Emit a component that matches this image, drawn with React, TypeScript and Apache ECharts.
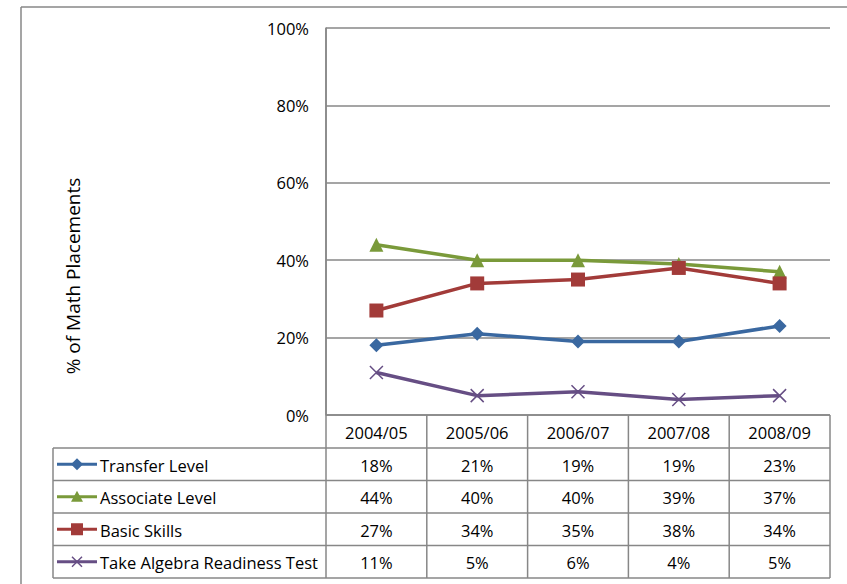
import React, { useEffect, useRef } from "react";
import * as echarts from "echarts";

// School years shown along the x axis and in the table header
const years = ["2004/05", "2005/06", "2006/07", "2007/08", "2008/09"];

// Share of math placements by level (%)
const transferLevel = [18, 21, 19, 19, 23];
const associateLevel = [44, 40, 40, 39, 37];
const basicSkills = [27, 34, 35, 38, 34];
const algebraReadiness = [11, 5, 6, 4, 5];

const seriesNames = [
  "Transfer Level",
  "Associate Level",
  "Basic Skills",
  "Take Algebra Readiness Test",
];

const yTicks = [0, 20, 40, 60, 80, 100];

const COLORS = ["#3A68A0", "#7A9A3A", "#A23B39", "#664E84"];
const FONT = "Open Sans";
const GRID_COLOR = "#878787";
const TABLE_FONT = `16.5px "${FONT}"`;

// Plot area in page pixels
const G = { left: 326, top: 28, width: 504, height: 387 };
// Data table under the plot
const TBL = { left: 53, headerTop: 415, rowTop: 448, rowH: 32.5, rows: 4 };

const X_PATH = "path://M0,0L10,10M10,0L0,10";

export default function App() {
  const ref = useRef<HTMLDivElement>(null);

  useEffect(() => {
    if (!ref.current) return;
    const chart = echarts.init(ref.current, null, { renderer: "svg" });
    const values = [transferLevel, associateLevel, basicSkills, algebraReadiness];
    const symbols = ["diamond", "triangle", "rect", X_PATH];
    const symbolSizes = [14, 14, 14, 13];

    const right = G.left + G.width;
    const colW = G.width / years.length;
    const bottom = TBL.rowTop + TBL.rowH * TBL.rows;
    const lineStyle = { stroke: GRID_COLOR, lineWidth: 1.5 };
    const graphics: any[] = [];

    // Outer chart frame
    graphics.push({ type: "line", shape: { x1: 21, y1: 7, x2: 847, y2: 7 }, style: lineStyle });
    graphics.push({ type: "line", shape: { x1: 21, y1: 7, x2: 21, y2: 584 }, style: lineStyle });

    // Y axis title
    graphics.push({
      type: "text",
      x: 73,
      y: 276,
      rotation: Math.PI / 2,
      style: {
        text: "% of Math Placements",
        font: `19px "${FONT}"`,
        fill: "#000",
        align: "center",
        verticalAlign: "middle",
      },
    });

    // Table grid: horizontal rules
    for (let r = 0; r <= TBL.rows; r++) {
      const y = TBL.rowTop + r * TBL.rowH;
      graphics.push({ type: "line", shape: { x1: TBL.left, y1: y, x2: right, y2: y }, style: lineStyle });
    }
    graphics.push({ type: "line", shape: { x1: G.left, y1: TBL.headerTop, x2: right, y2: TBL.headerTop }, style: lineStyle });
    // Table grid: vertical rules
    graphics.push({ type: "line", shape: { x1: TBL.left, y1: TBL.rowTop, x2: TBL.left, y2: bottom }, style: lineStyle });
    graphics.push({ type: "line", shape: { x1: G.left, y1: G.top, x2: G.left, y2: bottom }, style: lineStyle });
    for (let c = 1; c <= years.length; c++) {
      const x = G.left + c * colW;
      graphics.push({ type: "line", shape: { x1: x, y1: TBL.headerTop, x2: x, y2: bottom }, style: lineStyle });
    }

    // Header cells
    years.forEach((y, i) => {
      graphics.push({
        type: "text",
        x: G.left + (i + 0.5) * colW,
        y: (TBL.headerTop + TBL.rowTop) / 2 + 1,
        style: { text: y, font: TABLE_FONT, fill: "#000", align: "center", verticalAlign: "middle" },
      });
    });

    // Row cells with legend keys
    values.forEach((vals, r) => {
      const cy = TBL.rowTop + (r + 0.5) * TBL.rowH;
      const color = COLORS[r];
      const kx1 = 57, kx2 = 97, kc = 77;
      graphics.push({ type: "line", shape: { x1: kx1, y1: cy, x2: kx2, y2: cy }, style: { stroke: color, lineWidth: 3 } });
      if (r === 0) {
        graphics.push({ type: "polygon", shape: { points: [[kc, cy - 6], [kc + 6, cy], [kc, cy + 6], [kc - 6, cy]] }, style: { fill: color } });
      } else if (r === 1) {
        graphics.push({ type: "polygon", shape: { points: [[kc, cy - 6], [kc + 6, cy + 5], [kc - 6, cy + 5]] }, style: { fill: color } });
      } else if (r === 2) {
        graphics.push({ type: "rect", shape: { x: kc - 6, y: cy - 6, width: 12, height: 12 }, style: { fill: color } });
      } else {
        graphics.push({ type: "line", shape: { x1: kc - 5, y1: cy - 5, x2: kc + 5, y2: cy + 5 }, style: { stroke: color, lineWidth: 1.5 } });
        graphics.push({ type: "line", shape: { x1: kc - 5, y1: cy + 5, x2: kc + 5, y2: cy - 5 }, style: { stroke: color, lineWidth: 1.5 } });
      }
      graphics.push({
        type: "text",
        x: 100,
        y: cy + 1,
        style: { text: seriesNames[r], font: TABLE_FONT, fill: "#000", align: "left", verticalAlign: "middle" },
      });
      vals.forEach((v, i) => {
        graphics.push({
          type: "text",
          x: G.left + (i + 0.5) * colW,
          y: cy + 1,
          style: { text: `${v}%`, font: TABLE_FONT, fill: "#000", align: "center", verticalAlign: "middle" },
        });
      });
    });

    chart.setOption({
      animation: false,
      backgroundColor: "#ffffff",
      grid: { left: G.left, top: G.top, width: G.width, height: G.height, containLabel: false },
      xAxis: {
        type: "category",
        data: years,
        boundaryGap: true,
        axisLine: { show: false },
        axisTick: { show: false },
        axisLabel: { show: false },
      },
      yAxis: {
        type: "value",
        min: 0,
        max: 100,
        interval: 20,
        axisLine: { show: true, lineStyle: { color: GRID_COLOR, width: 1.5 } },
        axisTick: { show: false },
        axisLabel: {
          formatter: (v: number) => (yTicks.includes(v) ? `${v}%` : ""),
          fontFamily: FONT,
          fontSize: 16.5,
          color: "#000",
          margin: 17,
        },
        splitLine: { show: true, lineStyle: { color: GRID_COLOR, width: 1.5 } },
      },
      series: values.map((vals, i) => ({
        name: seriesNames[i],
        type: "line",
        data: vals,
        symbol: symbols[i],
        symbolSize: symbolSizes[i],
        showSymbol: true,
        lineStyle: { color: COLORS[i], width: 3.5 },
        itemStyle: {
          color: COLORS[i],
          borderColor: COLORS[i],
          borderWidth: i === 3 ? 1.5 : 0,
        },
        z: 3 + (i === 2 ? 1 : 0),
      })),
      graphic: graphics,
    });

    return () => chart.dispose();
  }, []);

  return (
    <div
      ref={ref}
      style={{ position: "fixed", left: 0, top: 0, width: 847, height: 584, background: "#fff" }}
    />
  );
}
